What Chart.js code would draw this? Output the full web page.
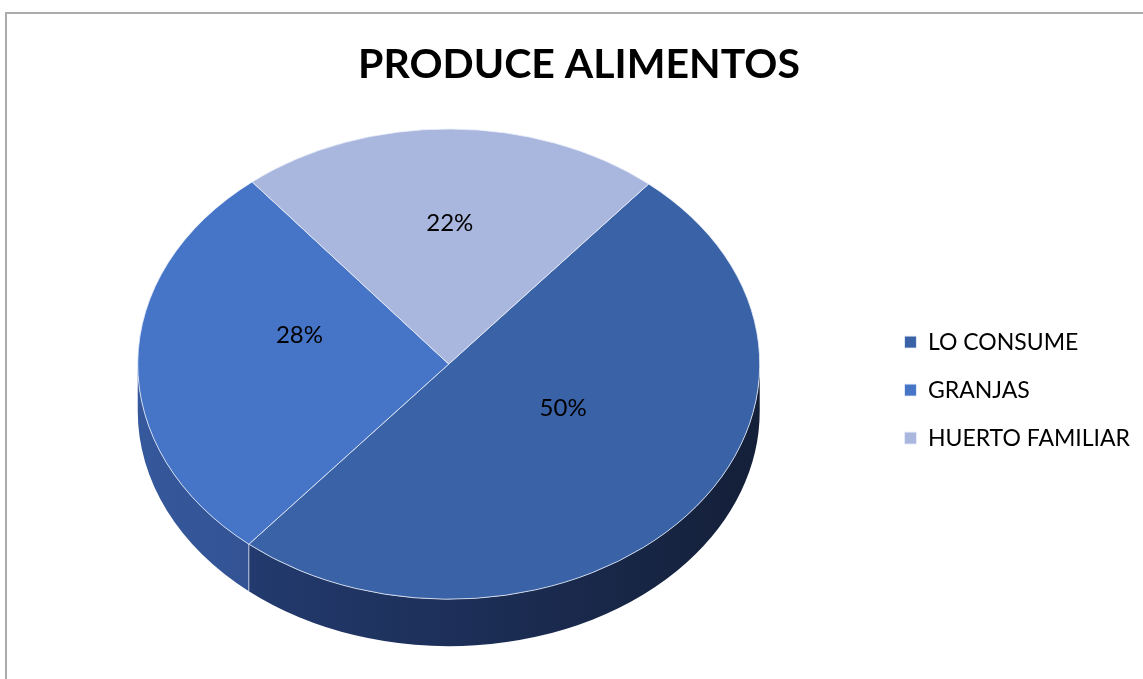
<!DOCTYPE html>
<html>
<head>
<meta charset="utf-8">
<script src="https://cdn.jsdelivr.net/npm/chart.js@4.4.1/dist/chart.umd.min.js"></script>
<style>
  html, body { margin: 0; padding: 0; background: #fff; overflow: hidden; }
  #wrap { position: relative; width: 1143px; height: 679px; }
  #frame { position: absolute; left: 5px; top: 12px; width: 1200px; height: 700px;
           border: 2px solid #ababab; pointer-events: none; }
</style>
</head>
<body>
<div id="wrap">
  <canvas id="chart" width="1143" height="679"></canvas>
  <div id="frame"></div>
</div>
<script>
// data
const categories = ['LO CONSUME', 'GRANJAS', 'HUERTO FAMILIAR'];
const values = [50, 28, 22];
const topColors = ['#3A62A7', '#4675C8', '#A9B6DE'];
const sideColors = [['#26407A', '#141F38'], ['#36589C', '#223A6E'], ['#7D8AAE', '#5C6889']];

// look of the fake 3d
const TILT = 0.756;      // vertical squash of the pie
const DEPTH = 47;        // thickness of the side on screen
const LIFT = -26;        // pie sits a bit above the chart area middle
const LABEL_AT = 0.48;   // label distance, part of the radius
const LABEL_LIFT = -28;  // labels sit higher, like excel's perspective

const FONT = 'Lato, "Open Sans", sans-serif';

// draws the side of the pie, squashes the slices, then puts the % labels on
const pie3d = {
  id: 'pie3d',
  beforeDatasetsDraw(chart) {
    const ctx = chart.ctx;
    const arcs = chart.getDatasetMeta(0).data;
    const x = arcs[0].x, y = arcs[0].y, r = arcs[0].outerRadius;
    const d = DEPTH / TILT;
    ctx.save();
    ctx.translate(x, y + LIFT);
    ctx.scale(1, TILT);
    ctx.translate(-x, -y);

    arcs.forEach((arc, i) => {
      const g = ctx.createLinearGradient(x - r, 0, x + r, 0);
      g.addColorStop(0, sideColors[i][0]);
      g.addColorStop(1, sideColors[i][1]);
      for (let k = -1; k <= 1; k++) {
        const lo = Math.max(arc.startAngle, k * 2 * Math.PI);
        const hi = Math.min(arc.endAngle, k * 2 * Math.PI + Math.PI);
        if (hi <= lo) continue;
        ctx.beginPath();
        ctx.arc(x, y, r, lo, hi);
        ctx.arc(x, y + d, r, hi, lo, true);
        ctx.closePath();
        ctx.fillStyle = g;
        ctx.fill();
      }
    });

    // seams where slices meet on the visible side
    ctx.strokeStyle = 'rgba(230,235,245,0.85)';
    ctx.lineWidth = 1;
    arcs.forEach(arc => {
      const a = arc.startAngle;
      if (Math.sin(a) <= 0.02) return;
      const sx = x + Math.cos(a) * r, sy = y + Math.sin(a) * r;
      ctx.beginPath();
      ctx.moveTo(sx, sy);
      ctx.lineTo(sx, sy + d);
      ctx.stroke();
    });
  },
  afterDatasetsDraw(chart) {
    const ctx = chart.ctx;
    ctx.restore();
    const arcs = chart.getDatasetMeta(0).data;
    const total = values.reduce((a, b) => a + b, 0);
    ctx.save();
    ctx.font = '24px ' + FONT;
    ctx.fillStyle = '#000';
    ctx.textAlign = 'center';
    ctx.textBaseline = 'middle';
    arcs.forEach((arc, i) => {
      const mid = (arc.startAngle + arc.endAngle) / 2;
      const rr = arc.outerRadius * LABEL_AT;
      const lx = arc.x + Math.cos(mid) * rr;
      const ly = arc.y + LIFT + LABEL_LIFT + Math.sin(mid) * rr * TILT;
      ctx.fillText(Math.round(values[i] / total * 100) + '%', lx, ly);
    });
    ctx.restore();
  }
};

function createChart() {
  const ctx = document.getElementById('chart').getContext('2d');
  return new Chart(ctx, {
    type: 'pie',
    data: {
      labels: categories,
      datasets: [{
        data: values,
        backgroundColor: topColors,
        borderColor: 'rgba(235,240,250,0.9)',
        borderWidth: 1,
        radius: 311,
        clip: false
      }]
    },
    options: {
      responsive: false,
      animation: false,
      rotation: 40,
      layout: { padding: { left: 18, right: 3, top: 0, bottom: 0 } },
      plugins: {
        tooltip: { enabled: false },
        title: {
          display: true,
          text: 'PRODUCE ALIMENTOS',
          color: '#000',
          font: { family: FONT, size: 41, weight: 'bold', lineHeight: 1.2 },
          padding: { top: 40, bottom: 12 }
        },
        legend: {
          position: 'right',
          align: 'center',
          fullSize: false,
          labels: {
            color: '#000',
            font: { family: FONT, size: 23 },
            boxWidth: 12,
            boxHeight: 12,
            padding: 25
          }
        }
      }
    },
    plugins: [pie3d]
  });
}

createChart();
</script>
</body>
</html>
